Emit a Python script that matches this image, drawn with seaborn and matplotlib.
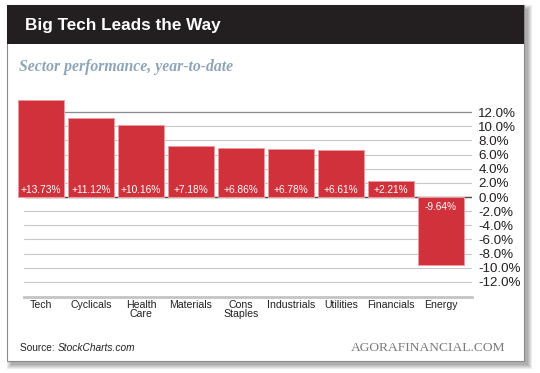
import matplotlib
matplotlib.use("Agg")
import matplotlib.pyplot as plt
from matplotlib.patches import Rectangle
import seaborn as sns

# ---- data ----
sectors = ["Tech", "Cyclicals", "Health\nCare", "Materials", "Cons\nStaples",
           "Industrials", "Utilities", "Financials", "Energy"]
values = [13.73, 11.12, 10.16, 7.18, 6.86, 6.78, 6.61, 2.21, -9.64]
value_labels = ["+13.73%", "+11.12%", "+10.16%", "+7.18%", "+6.86%",
                "+6.78%", "+6.61%", "+2.21%", "-9.64%"]
yticks = [12, 10, 8, 6, 4, 2, 0, -2, -4, -6, -8, -10, -12]
ytick_labels = ["12.0%", "10.0%", "8.0%", "6.0%", "4.0%", "2.0%", "0.0%",
                "-2.0%", "-4.0%", "-6.0%", "-8.0%", "-10.0%", "-12.0%"]
title = "Big Tech Leads the Way"
subtitle = "Sector performance, year-to-date"
source_prefix = "Source: "
source_name = "StockCharts.com"
brand = "AGORAFINANCIAL.COM"

bar_color = "#D1313B"

sns.set_style("white")
plt.rcParams["font.family"] = ["Liberation Sans", "DejaVu Sans"]

W, H = 540, 373
fig = plt.figure(figsize=(5.4, 3.73), dpi=100)
fig.patch.set_facecolor("white")

# background / card layer in pixel coordinates
bg = fig.add_axes([0, 0, 1, 1], zorder=0)
bg.set_xlim(0, W)
bg.set_ylim(H, 0)
bg.axis("off")

cx, cy, cw, ch = 7, 5, 517, 356
for r in [4, 3, 2, 1, 0]:
    bg.add_patch(Rectangle((cx + 4 - r, cy + 4 - r), cw + 2 * r, ch + 2 * r,
                           facecolor="black", edgecolor="none", alpha=0.07))
bg.add_patch(Rectangle((cx, cy), cw, ch, facecolor="white",
                       edgecolor="#8a8a8a", lw=0.8))
bg.add_patch(Rectangle((cx, cy), cw, 39, facecolor="#231F20", edgecolor="none"))

bg.text(25, 25.5, title, color="white", fontsize=12.3, fontweight="bold",
        ha="left", va="center")
bg.text(19, 67, subtitle, color="#8DA5B8", fontsize=11.3, fontweight="bold",
        fontstyle="italic", family=["Liberation Serif", "DejaVu Serif"],
        ha="left", va="center")
t1 = bg.text(20, 348, source_prefix, color="#222222", fontsize=7.3,
             ha="left", va="center")
fig.canvas.draw()
bb = t1.get_window_extent(renderer=fig.canvas.get_renderer())
x_after = bg.transData.inverted().transform((bb.x1, 0))[0]
bg.text(x_after, 348, source_name, color="#222222", fontsize=7.3,
        fontstyle="italic", ha="left", va="center")
bg.text(505, 348, brand, color="#7a7a7a", fontsize=9.7,
        family=["Liberation Serif", "DejaVu Serif"], ha="right", va="center")

# ---- main chart ----
ax = fig.add_axes([24 / W, (H - 297) / H, 448 / W, 200 / H], zorder=1)
ax.patch.set_alpha(0)

sns.barplot(x=sectors, y=values, color=bar_color, saturation=1, width=0.92,
            edgecolor="#EE9AA0", linewidth=0.7, ax=ax, zorder=2)
for p in ax.patches:
    p.set_clip_on(False)

ax.set_xlim(-0.34, 8.62)
ax.set_ylim(-14.12, 14.12)
ax.set_xlabel("")
ax.set_ylabel("")

ax.set_yticks(yticks)
ax.set_yticklabels(ytick_labels, fontsize=9.6, color="#231F20")
ax.yaxis.tick_right()
ax.tick_params(axis="y", length=0, pad=4.5)
ax.tick_params(axis="x", length=0, pad=2, labelsize=7.6, labelcolor="#231F20")
for lab in ax.get_xticklabels():
    lab.set_linespacing(0.95)

ax.set_axisbelow(True)
ax.yaxis.grid(True, color="#c8c8c8", lw=0.8)
ax.xaxis.grid(False)
ax.axhline(0, color="#4d4d4d", lw=1.0, zorder=1)
ax.axhline(12, color="#8c8c8c", lw=0.9, zorder=1)

for s in ["top", "left", "right"]:
    ax.spines[s].set_visible(False)
ax.spines["bottom"].set_color("#c4c4c4")
ax.spines["bottom"].set_linewidth(2)

for i, (v, lab) in enumerate(zip(values, value_labels)):
    offset = 2.9 if v >= 0 else -9
    ax.annotate(lab, (i, 0), xytext=(0, offset), textcoords="offset points",
                ha="center", va="baseline", color="white", fontsize=7.3,
                zorder=3)

fig.savefig("out.png", dpi=100)
